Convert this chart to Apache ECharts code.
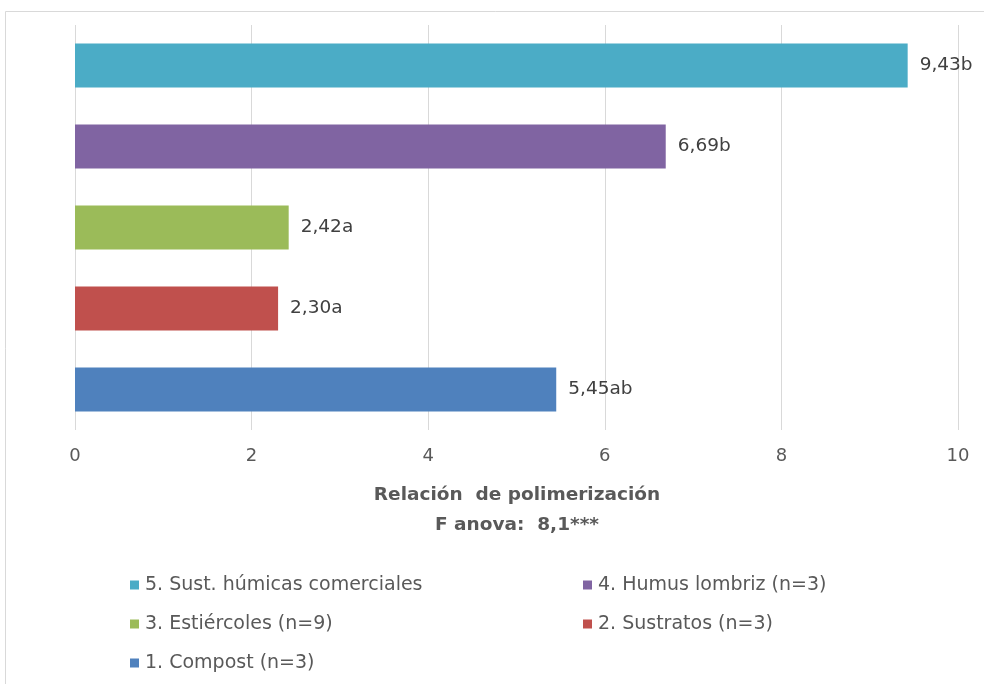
<!DOCTYPE html>
<html>
<head>
<meta charset="utf-8">
<script src="https://cdn.jsdelivr.net/npm/echarts@6/dist/echarts.min.js"></script>
<style>html,body{margin:0;padding:0;background:#fff;}#c{width:984px;height:684px;}</style>
</head>
<body>
<div id="c"></div>
<script>
// Categories from bottom to top
const categories = ['1. Compost (n=3)', '2. Sustratos (n=3)', '3. Estiércoles (n=9)', '4. Humus lombriz (n=3)', '5. Sust. húmicas comerciales'];
const values = [5.45, 2.30, 2.42, 6.69, 9.43];
const labels = ['5,45ab', '2,30a', '2,42a', '6,69b', '9,43b'];
const colors = ['#4f81bd', '#c0504d', '#9bbb59', '#8064a2', '#4bacc6'];
const xTicks = [0, 2, 4, 6, 8, 10];
const axisTitle = 'Relación  de polimerización';
const axisSubtitle = 'F anova:  8,1***';

const FONT = '"DejaVu Sans", sans-serif';
const series = categories.map((name, i) => ({
  name: name,
  type: 'bar',
  stack: 'all',
  barWidth: 44,
  itemStyle: { color: colors[i] },
  label: {
    show: true, position: 'right', distance: 12,
    formatter: () => labels[i],
    color: '#404040', fontSize: 18.5, fontFamily: FONT
  },
  data: values.map((v, j) => j === i ? v : '-')
}));

const chart = echarts.init(document.getElementById('c'));
chart.setOption({
  animation: false,
  backgroundColor: '#fff',
  graphic: [{
    type: 'rect', shape: { x: 5.5, y: 11.5, width: 990, height: 690 },
    style: { fill: 'none', stroke: '#d9d9d9', lineWidth: 1 }
  }, {
    type: 'text', x: 517, y: 495,
    style: { text: axisTitle, fill: '#595959', fontSize: 18.5, fontWeight: 'bold', fontFamily: FONT, align: 'center', verticalAlign: 'middle' }
  }, {
    type: 'text', x: 517, y: 525,
    style: { text: axisSubtitle, fill: '#595959', fontSize: 18.5, fontWeight: 'bold', fontFamily: FONT, align: 'center', verticalAlign: 'middle' }
  }],
  grid: { left: 75, right: 26, top: 25, bottom: 254 },
  xAxis: {
    type: 'value', min: 0, max: 10, interval: 2,
    axisLine: { show: false }, axisTick: { show: false },
    splitLine: { show: true, lineStyle: { color: '#d9d9d9', width: 1 } },
    axisLabel: { color: '#595959', fontSize: 18, fontFamily: FONT, margin: 17,
      formatter: v => xTicks.includes(v) ? String(v) : '' }
  },
  yAxis: {
    type: 'category', data: categories,
    axisLine: { show: false }, axisTick: { show: false }, axisLabel: { show: false }
  },
  legend: [{
    orient: 'vertical', left: 125, top: 570, itemGap: 19,
    itemWidth: 9, itemHeight: 9, icon: 'rect',
    data: [categories[4], categories[2], categories[0]],
    textStyle: { color: '#595959', fontSize: 19, fontFamily: FONT, lineHeight: 20, padding: [0, 0, 0, 1] }
  }, {
    orient: 'vertical', left: 578, top: 570, itemGap: 19,
    itemWidth: 9, itemHeight: 9, icon: 'rect',
    data: [categories[3], categories[1]],
    textStyle: { color: '#595959', fontSize: 19, fontFamily: FONT, lineHeight: 20, padding: [0, 0, 0, 1] }
  }],
  series: series
});
</script>
</body>
</html>
